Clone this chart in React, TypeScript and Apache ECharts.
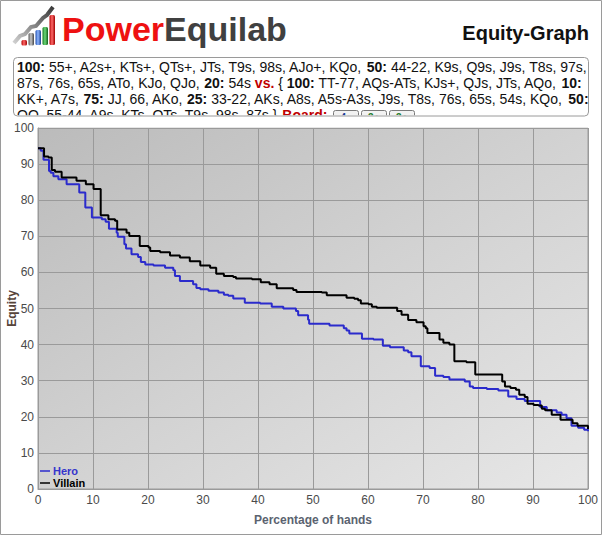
import React, { useEffect, useRef } from "react";
import * as echarts from "echarts";

// ---- data ----
const heroPct = [0, 0.5, 1.0, 2.0, 2.3, 2.8, 3.7, 5.2, 7.5, 8.6, 9.8, 11.6, 12.3, 12.9, 14.3, 14.5, 15.7, 16.0, 17.0, 18.2, 18.7, 19.5, 21.0, 23.1, 24.6, 24.9, 25.8, 28.2, 28.8, 29.5, 31.0, 32.8, 33.8, 34.6, 35.5, 37.6, 40.4, 42.5, 44.6, 46.9, 47.3, 49.1, 49.3, 53.0, 55.6, 56.1, 56.6, 58.9, 61.0, 62.7, 64.0, 66.5, 67.3, 67.9, 69.6, 71.2, 72.2, 73.7, 74.8, 77.6, 78.5, 79.1, 81.6, 83.7, 85.5, 87.0, 88.5, 91.3, 92.5, 94.3, 95.2, 96.1, 97.0, 98.2, 99.3, 100];
const heroEquity = [94.4, 93.7, 91.2, 88.1, 87.6, 86.6, 85.8, 84.4, 82.1, 78.0, 75.2, 74.7, 74.0, 72.1, 71.0, 69.9, 67.8, 66.6, 65.0, 64.3, 62.9, 62.2, 61.9, 61.3, 60.6, 59.0, 57.6, 56.7, 55.7, 55.3, 54.9, 54.4, 53.8, 53.5, 52.8, 51.6, 51.4, 50.5, 50.0, 49.3, 48.1, 46.9, 45.8, 45.3, 44.5, 43.9, 43.1, 41.6, 41.4, 39.7, 39.3, 38.4, 37.9, 36.8, 34.0, 33.5, 31.4, 31.0, 30.3, 29.8, 28.4, 28.0, 27.7, 27.3, 25.6, 24.9, 24.4, 22.7, 21.8, 21.2, 20.6, 19.6, 17.5, 17.0, 16.4, 16.0];

const villainPct = [0, 1.1, 1.9, 2.5, 3.1, 4.3, 7.0, 8.7, 10.1, 11.4, 12.8, 14.0, 14.4, 16.1, 16.6, 18.5, 20.1, 20.4, 22.2, 24.0, 25.8, 27.6, 29.5, 31.3, 32.4, 33.8, 35.5, 36.0, 38.9, 40.5, 42.1, 43.4, 46.4, 47.0, 51.6, 52.5, 56.1, 57.5, 58.2, 58.7, 60.1, 60.7, 61.6, 65.3, 66.1, 67.3, 68.8, 70.1, 70.5, 70.8, 73.0, 73.7, 74.8, 75.7, 77.9, 79.5, 84.4, 84.9, 85.9, 86.9, 87.5, 88.5, 89.0, 90.1, 91.0, 91.6, 92.2, 93.4, 95.0, 97.2, 98.1, 100];
const villainEquity = [94.4, 92.1, 91.8, 88.4, 87.9, 86.3, 85.4, 84.4, 83.1, 75.8, 74.7, 74.3, 71.9, 71.0, 70.1, 67.3, 66.9, 65.9, 65.6, 64.7, 64.1, 63.1, 61.9, 61.3, 59.6, 59.0, 58.7, 58.3, 58.1, 57.3, 56.7, 55.6, 55.1, 54.6, 54.4, 53.7, 53.0, 52.7, 52.3, 51.4, 51.2, 50.5, 50.2, 49.3, 48.3, 46.8, 46.2, 45.1, 44.5, 43.2, 41.4, 40.5, 40.0, 35.4, 35.1, 31.7, 29.8, 28.4, 28.0, 27.5, 26.1, 25.5, 23.6, 23.3, 23.1, 22.2, 21.8, 20.6, 19.2, 18.2, 17.5, 16.6];

const seriesNames = ["Hero", "Villain"];
const rangeLines = [
  "{b|100:} 55+, A2s+, KTs+, QTs+, JTs, T9s, 98s, AJo+, KQo, {b|50:} 44-22, K9s, Q9s, J9s, T8s, 97s,",
  "87s, 76s, 65s, ATo, KJo, QJo, {b|20:} 54s {r|vs.} { {b|100:} TT-77, AQs-ATs, KJs+, QJs, JTs, AQo, {b|10:}",
  "KK+, A7s, {b|75:} JJ, 66, AKo, {b|25:} 33-22, AKs, A8s, A5s-A3s, J9s, T8s, 76s, 65s, 54s, KQo, {b|50:}",
  "QQ, 55-44, A9s, KTs, QTs, T9s, 98s, 87s } {r|Board:}",
];
const boardCards = [
  { label: "4♠", color: "#1d3f9a" },
  { label: "3♣", color: "#1a7a2a" },
  { label: "3♣", color: "#1a7a2a" },
];

const FONT = '"Liberation Sans", Arial, sans-serif';
const lineY = [66.5, 83, 99.3, 115];

function zip(xs: number[], ys: number[]) {
  return xs.map((x, i) => [x, ys[i]]);
}

export default function App() {
  const ref = useRef<HTMLDivElement>(null);
  useEffect(() => {
    if (!ref.current) return;
    const chart = echarts.init(ref.current, undefined, { renderer: "svg" });
    const G = echarts.graphic;
    const vGrad = (c1: string, c2: string, c3: string) =>
      new G.LinearGradient(0, 0, 1, 0, [
        { offset: 0, color: c1 },
        { offset: 0.45, color: c2 },
        { offset: 1, color: c3 },
      ]);

    const bars = [
      { x: 21.5, y: 40, h: 5.5, c: ["#b00000", "#ff6b6b", "#a00000"] },
      { x: 28.5, y: 33, h: 12.5, c: ["#555", "#c8c8c8", "#444"] },
      { x: 35.5, y: 30, h: 15, c: ["#1f4fb0", "#8fb6ff", "#183f90"] },
      { x: 42.5, y: 27, h: 18, c: ["#157a20", "#6fd87a", "#0f6018"] },
      { x: 49.5, y: 15, h: 30, c: ["#b00000", "#ff6b6b", "#a00000"] },
    ];

    const rangeTextEls = rangeLines.map((t, i) => ({
      type: "text",
      z: 1,
      style: {
        text: t,
        x: 17,
        y: lineY[i],
        verticalAlign: "middle",
        align: "left",
        fill: "#111",
        fontSize: 14,
        fontFamily: FONT,
        rich: {
          b: { fontSize: 14, fontFamily: FONT, fontWeight: "bold", fill: "#111" },
          r: { fontSize: 14, fontFamily: FONT, fontWeight: "bold", fill: "#c00000" },
        },
      },
    }));

    const cardEls: any[] = [];
    boardCards.forEach((c, i) => {
      const x0 = 333 + i * 28;
      cardEls.push({
        type: "rect",
        z: 1,
        shape: { x: x0 + 0.5, y: 110.5, width: 25, height: 14, r: 2 },
        style: { fill: "#f2f2f2", stroke: "#7a7a7a", lineWidth: 1 },
      });
      cardEls.push({
        type: "text",
        z: 1,
        style: {
          text: c.label,
          x: x0 + 13,
          y: 117,
          align: "center",
          verticalAlign: "middle",
          fill: c.color,
          fontSize: 10,
          fontWeight: "bold",
          fontFamily: FONT,
        },
      });
    });

    const option: any = {
      animation: false,
      backgroundColor: "#ffffff",
      grid: {
        left: 38,
        top: 128,
        right: 14,
        bottom: 46,
        outerBoundsMode: "none",
        containLabel: false,
        show: true,
        borderColor: "#9a9a9a",
        borderWidth: 1,
        backgroundColor: new G.LinearGradient(0, 0, 1, 1, [
          { offset: 0, color: "#bbbbbb" },
          { offset: 0.5, color: "#d2d2d2" },
          { offset: 1, color: "#e7e7e7" },
        ]),
      },
      legend: {
        orient: "vertical",
        left: 40,
        top: 465,
        padding: 0,
        itemGap: 0,
        itemWidth: 10,
        itemHeight: 1.5,
        icon: "rect",
        textStyle: { fontSize: 11, fontWeight: "bold", fontFamily: FONT, lineHeight: 12, padding: [0, 0, 0, -2] },
        data: [
          { name: seriesNames[0], textStyle: { color: "#3535cc" } },
          { name: seriesNames[1], textStyle: { color: "#000000" } },
        ],
      },
      xAxis: {
        type: "value",
        min: 0,
        max: 100,
        interval: 10,
        name: "Percentage of hands",
        nameLocation: "middle",
        nameGap: 25,
        nameMoveOverlap: false,
        nameTextStyle: { color: "#5b6370", fontSize: 12, fontWeight: "bold", fontFamily: FONT },
        axisLine: { show: true, lineStyle: { color: "#9a9a9a", width: 1 } },
        axisTick: { show: false },
        axisLabel: { color: "#4a4a4a", fontSize: 12, fontFamily: FONT, margin: 5 },
        splitLine: { show: true, lineStyle: { color: "#9a9a9a", width: 1 } },
      },
      yAxis: {
        type: "value",
        z: 10,
        min: 0,
        max: 100,
        interval: 10,
        name: "Equity",
        nameLocation: "middle",
        nameGap: 20,
        nameMoveOverlap: false,
        nameRotate: 90,
        nameTextStyle: { color: "#56443a", fontSize: 12, fontWeight: "bold", fontFamily: FONT },
        axisLine: { show: true, lineStyle: { color: "#9a9a9a", width: 1 } },
        axisTick: { show: false },
        axisLabel: { color: "#4a4a4a", fontSize: 12, fontFamily: FONT, margin: 4 },
        splitLine: { show: true, lineStyle: { color: "#9a9a9a", width: 1 } },
      },
      series: [
        {
          name: seriesNames[0],
          type: "line",
          z: 20,
          step: "end",
          showSymbol: false,
          symbol: "none",
          color: "#2b2bcc",
          lineStyle: { color: "#2b2bcc", width: 2 },
          data: zip(heroPct, heroEquity),
        },
        {
          name: seriesNames[1],
          type: "line",
          z: 21,
          step: "end",
          showSymbol: false,
          symbol: "none",
          color: "#000000",
          lineStyle: { color: "#000000", width: 2 },
          data: zip(villainPct, villainEquity),
        },
      ],
      graphic: [
        {
          type: "rect",
          z: 0,
          shape: { x: 0.5, y: 0.5, width: 601, height: 534 },
          style: { fill: "none", stroke: "#9a9a9a", lineWidth: 1 },
        },
        {
          type: "polyline",
          z: 1,
          shape: { points: [[14, 43], [20, 36], [25, 34], [31, 27], [36, 26], [43, 18], [47, 15], [53, 7]] },
          style: {
            stroke: new G.LinearGradient(0, 1, 1, 0, [
              { offset: 0, color: "#d0d0d0" },
              { offset: 1, color: "#3a3a3a" },
            ]),
            lineWidth: 4,
            fill: "none",
            lineJoin: "miter",
          },
        },
        ...bars.map((b) => ({
          type: "rect",
          z: 2,
          shape: { x: b.x, y: b.y, width: 5.5, height: b.h, r: 1.5 },
          style: { fill: vGrad(b.c[0], b.c[1], b.c[2]) },
        })),
        {
          type: "text",
          z: 1,
          style: {
            text: "{p|Power}{e|Equilab}",
            x: 62,
            y: 29,
            verticalAlign: "middle",
            align: "left",
            rich: {
              p: { fill: "#ee1111", fontSize: 34, fontWeight: "bold", fontFamily: FONT },
              e: { fill: "#404040", fontSize: 34, fontWeight: "bold", fontFamily: FONT },
            },
          },
        },
        {
          type: "text",
          z: 1,
          style: {
            text: "Equity-Graph",
            x: 589,
            y: 33,
            align: "right",
            verticalAlign: "middle",
            fill: "#111111",
            fontSize: 20,
            fontWeight: "bold",
            fontFamily: FONT,
          },
        },
        ...rangeTextEls,
        ...cardEls,
        {
          type: "rect",
          z: 2,
          shape: { x: 14, y: 115.3, width: 574, height: 12.2 },
          style: { fill: "#ffffff" },
        },
        {
          type: "rect",
          z: 3,
          shape: { x: 13.5, y: 57.5, width: 575, height: 58.5, r: 4 },
          style: { fill: "none", stroke: "#9a9a9a", lineWidth: 1 },
        },
      ],
    };
    chart.setOption(option);
    return () => chart.dispose();
  }, []);
  return (
    <div
      ref={ref}
      style={{ position: "absolute", left: 0, top: 0, width: 602, height: 535, background: "#fff" }}
    />
  );
}
